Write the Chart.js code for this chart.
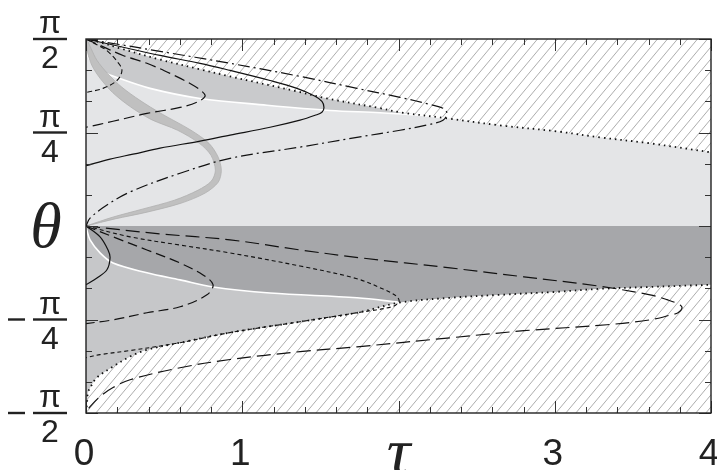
<!DOCTYPE html>
<html>
<head>
<meta charset="utf-8">
<script src="https://cdn.jsdelivr.net/npm/chart.js@4.4.1/dist/chart.umd.min.js"></script>
<style>
  html, body { margin: 0; padding: 0; background: #fff; }
</style>
</head>
<body>
<canvas id="chart" width="717" height="470"></canvas>
<script>
// points are [tau, theta/pi]
const tauRange = [0, 4];
const thetaRange = [-0.5, 0.5];

const tauLabelValues = [0, 1, 2, 3, 4];
const tauLabels = ['0', '1', 'τ', '3', '4'];
const thetaLabelValues = [0.5, 0.25, 0, -0.25, -0.5];
const thetaLabels = ['π/2', 'π/4', 'θ', '−π/4', '−π/2'];

// upper half
const dottedUpper = [[0,0.5],[0.090,0.491],[0.218,0.475],[0.474,0.445],[0.730,0.419],[0.922,0.400],[1.350,0.360],[1.542,0.341],[1.882,0.315],[2.010,0.304],[2.310,0.288],[2.650,0.269],[3.014,0.253],[3.290,0.237],[3.610,0.221],[4.0,0.197]];
const whiteUpper = [[0,0.496],[0.006,0.464],[0.026,0.443],[0.090,0.416],[0.198,0.397],[0.410,0.368],[0.730,0.341],[1.158,0.323],[1.562,0.309],[1.882,0.303],[2.138,0.296],[2.310,0.288]];
const solidUpper = [[0,0.5],[0.218,0.480],[0.474,0.456],[0.730,0.435],[0.922,0.416],[1.178,0.389],[1.350,0.368],[1.466,0.347],[1.510,0.333],[1.523,0.317],[1.510,0.304],[1.466,0.296],[1.370,0.283],[1.178,0.264],[0.922,0.243],[0.730,0.227],[0.474,0.208],[0.301,0.192],[0.154,0.179],[0,0.161]];
const longDashUpper = [[0,0.5],[0.090,0.483],[0.237,0.456],[0.390,0.435],[0.538,0.408],[0.666,0.381],[0.742,0.360],[0.762,0.347],[0.710,0.331],[0.602,0.317],[0.390,0.301],[0.173,0.280],[0,0.264]];
const shortUpper = [[0,0.5],[0.077,0.483],[0.134,0.469],[0.205,0.437],[0.230,0.416],[0.198,0.389],[0.109,0.368],[0,0.357]];
const dashDotUpper = [[0,0.5],[0.218,0.485],[0.474,0.467],[0.922,0.435],[1.370,0.400],[1.734,0.368],[2.010,0.344],[2.202,0.325],[2.285,0.315],[2.310,0.301],[2.285,0.283],[2.202,0.272],[2.010,0.256],[1.734,0.237],[1.370,0.211],[0.922,0.181],[0.602,0.141],[0.282,0.091],[0.134,0.056],[0.026,0.021],[0,0]];
const bandOuter = [[0.006,0.499],[0.032,0.475],[0.070,0.443],[0.138,0.408],[0.230,0.371],[0.345,0.336],[0.480,0.301],[0.672,0.256],[0.787,0.221],[0.846,0.184],[0.866,0.149],[0.846,0.117],[0.762,0.088],[0.608,0.061],[0.390,0.037],[0.186,0.019],[0,0]];
const bandInner = [[0,0.495],[0.010,0.464],[0.038,0.429],[0.090,0.395],[0.170,0.357],[0.280,0.320],[0.416,0.285],[0.586,0.256],[0.726,0.221],[0.800,0.189],[0.828,0.149],[0.802,0.120],[0.718,0.096],[0.566,0.069],[0.360,0.045],[0.174,0.024],[0,0]];

// lower half
const dottedLower = [[0,-0.499],[0.006,-0.477],[0.013,-0.445],[0.038,-0.424],[0.070,-0.405],[0.173,-0.376],[0.282,-0.349],[0.390,-0.331],[0.602,-0.312],[0.922,-0.285],[1.370,-0.256],[1.734,-0.232],[2.003,-0.205],[2.330,-0.192],[2.650,-0.184],[3.014,-0.176],[3.290,-0.168],[3.610,-0.163],[4.0,-0.157]];
const whiteLower = [[0,0],[0.006,-0.011],[0.026,-0.037],[0.090,-0.072],[0.173,-0.099],[0.390,-0.125],[0.602,-0.144],[0.813,-0.163],[1.178,-0.179],[1.734,-0.192],[2.003,-0.204]];
const solidLower = [[0,0],[0.090,-0.029],[0.141,-0.064],[0.154,-0.085],[0.134,-0.117],[0.070,-0.139],[0,-0.157]];
const longDashLower = [[0,0],[0.173,-0.029],[0.390,-0.064],[0.602,-0.099],[0.749,-0.131],[0.813,-0.157],[0.774,-0.184],[0.602,-0.216],[0.390,-0.232],[0.173,-0.251],[0,-0.261]];
const shortDashLower = [[0,0],[0.282,-0.029],[0.602,-0.051],[0.922,-0.072],[1.370,-0.107],[1.734,-0.141],[1.914,-0.171],[1.990,-0.189],[2.003,-0.203],[1.958,-0.216],[1.734,-0.232],[1.370,-0.256],[0.922,-0.285],[0.602,-0.312],[0.282,-0.333],[0.090,-0.344],[0,-0.352]];
const bigDashLower = [[0,0],[0.474,-0.021],[0.922,-0.037],[1.370,-0.064],[1.754,-0.085],[2.330,-0.112],[2.803,-0.136],[3.270,-0.160],[3.610,-0.184],[3.718,-0.197],[3.802,-0.211],[3.814,-0.220],[3.789,-0.232],[3.750,-0.237],[3.610,-0.251],[3.334,-0.264],[2.803,-0.280],[2.330,-0.299],[1.734,-0.323],[1.370,-0.336],[0.922,-0.357],[0.602,-0.379],[0.282,-0.411],[0.173,-0.432],[0.090,-0.456],[0.026,-0.483],[0,-0.499]];

const pts = arr => arr.map(([t, th]) => ({x: t, y: th}));

// hatch pattern for the forbidden zones
function makeHatch() {
	const c = document.createElement('canvas');
	c.width = 10; c.height = 12;
	const g = c.getContext('2d');
	g.fillStyle = '#ffffff';
	g.fillRect(0, 0, 10, 12);
	g.strokeStyle = '#adadad';
	g.lineWidth = 1;
	g.beginPath();
	for (const dx of [-10, 0, 10]) {
		g.moveTo(dx, 12);
		g.lineTo(dx + 10, 0);
	}
	g.stroke();
	return g.createPattern(c, 'repeat');
}
const hatch = makeHatch();

const zeroLine = tauRange.map(t => [t, 0]);
const upperDarkShape = dottedUpper.filter(p => p[0] <= 2.31).concat(whiteUpper.slice().reverse());
const lowerMedShape = whiteLower.concat(dottedLower.filter(p => p[0] <= 2.003).reverse());
const bandShape = bandOuter.concat(bandInner.slice().reverse());

function area(data, fill, color, order) {
	return {data: pts(data), showLine: true, fill: fill, backgroundColor: color,
		borderWidth: 0, borderColor: 'transparent', pointRadius: 0, tension: 0.3, order: order};
}
function curve(data, color, width, dash, order) {
	return {data: pts(data), showLine: true, fill: false, borderColor: color,
		borderWidth: width, borderDash: dash, pointRadius: 0, tension: 0.35, order: order};
}

const datasets = [
	area(zeroLine, 'end', '#e4e5e7', 10),
	area(zeroLine, 'start', '#a6a7aa', 10),
	area(upperDarkShape, 'shape', '#c9cacc', 9),
	area(lowerMedShape, 'shape', '#c6c7c9', 9),
	area(dottedUpper, 'end', hatch, 8),
	area(dottedLower, 'start', hatch, 8),
	curve(whiteUpper, '#ffffff', 1.6, [], 7),
	curve(whiteLower, '#ffffff', 1.6, [], 7),
	Object.assign(area(bandShape, 'shape', '#c0c0c0', 6), {borderWidth: 0.8, borderColor: '#b0b0b0'}),
	curve(solidUpper, '#111', 1.2, [], 5),
	curve(longDashUpper, '#111', 1.2, [11, 5], 5),
	curve(shortUpper, '#111', 1.1, [5, 3], 5),
	curve(dashDotUpper, '#111', 1.2, [12, 4, 2, 4], 5),
	curve(solidLower, '#111', 1.2, [], 5),
	curve(longDashLower, '#111', 1.2, [10, 5], 5),
	curve(shortDashLower, '#111', 1.1, [4, 3], 5),
	curve(bigDashLower, '#111', 1.2, [14, 6], 5),
	curve(dottedUpper, '#111', 1.8, [1.5, 4], 4),
	curve(dottedLower, '#111', 1.8, [1.5, 4], 4)
];

// frame, inward ticks and labels
const axesPlugin = {
	id: 'axesPlugin',
	afterDatasetsDraw(chart) {
		const {ctx, chartArea: a, scales: {x, y}} = chart;
		ctx.save();
		ctx.strokeStyle = '#333';
		ctx.lineWidth = 1;
		ctx.beginPath();
		for (let i = 0; i <= 20; i++) {
			const v = tauRange[0] + i * 0.2;
			const px = Math.round(x.getPixelForValue(v)) + 0.5;
			const len = i % 5 === 0 ? 12 : 6;
			ctx.moveTo(px, a.top); ctx.lineTo(px, a.top + len);
			ctx.moveTo(px, a.bottom); ctx.lineTo(px, a.bottom - len);
		}
		for (let i = 0; i <= 12; i++) {
			const v = thetaRange[0] + i / 12;
			const py = Math.round(y.getPixelForValue(v)) + 0.5;
			const len = i % 3 === 0 ? 12 : 6;
			ctx.moveTo(a.left, py); ctx.lineTo(a.left + len, py);
			ctx.moveTo(a.right, py); ctx.lineTo(a.right - len, py);
		}
		ctx.stroke();
		ctx.strokeStyle = '#222';
		ctx.lineWidth = 1.4;
		ctx.strokeRect(a.left, a.top, a.right - a.left, a.bottom - a.top);

		ctx.fillStyle = '#222';
		ctx.textAlign = 'center';
		ctx.textBaseline = 'alphabetic';
		tauLabelValues.forEach((v, i) => {
			const px = x.getPixelForValue(v);
			if (tauLabels[i] === 'τ') {
				ctx.font = 'italic 66px "Liberation Serif"';
				ctx.fillText(tauLabels[i], px, a.bottom + 60);
			} else {
				ctx.font = '37px "Liberation Sans"';
				ctx.fillText(tauLabels[i], px - 2, a.bottom + 52);
			}
		});
		thetaLabelValues.forEach((v, i) => {
			const py = y.getPixelForValue(v);
			const lab = thetaLabels[i];
			if (lab.indexOf('/') < 0) {
				ctx.font = 'italic 64px "Liberation Serif"';
				ctx.fillText(lab, 46, py + 21);
				return;
			}
			const neg = lab[0] === '−';
			const [num, den] = lab.replace('−', '').split('/');
			const cx = 50;
			ctx.font = '32px "Liberation Sans"';
			ctx.fillText(num, cx, py - 6);
			ctx.fillText(den, cx, py + 29);
			ctx.fillRect(cx - 17, py - 1.2, 34, 2.4);
			if (neg) ctx.fillRect(cx - 42, py - 1.2, 17, 2.4);
		});
		ctx.restore();
	}
};

new Chart(document.getElementById('chart'), {
	type: 'scatter',
	data: {datasets: datasets},
	options: {
		responsive: false,
		devicePixelRatio: 1,
		animation: false,
		layout: {padding: {left: 86, right: 6, top: 39, bottom: 57}},
		plugins: {legend: {display: false}, tooltip: {enabled: false}},
		scales: {
			x: {type: 'linear', min: tauRange[0], max: tauRange[1], display: false},
			y: {type: 'linear', min: thetaRange[0], max: thetaRange[1], display: false}
		}
	},
	plugins: [axesPlugin]
});
</script>
</body>
</html>
